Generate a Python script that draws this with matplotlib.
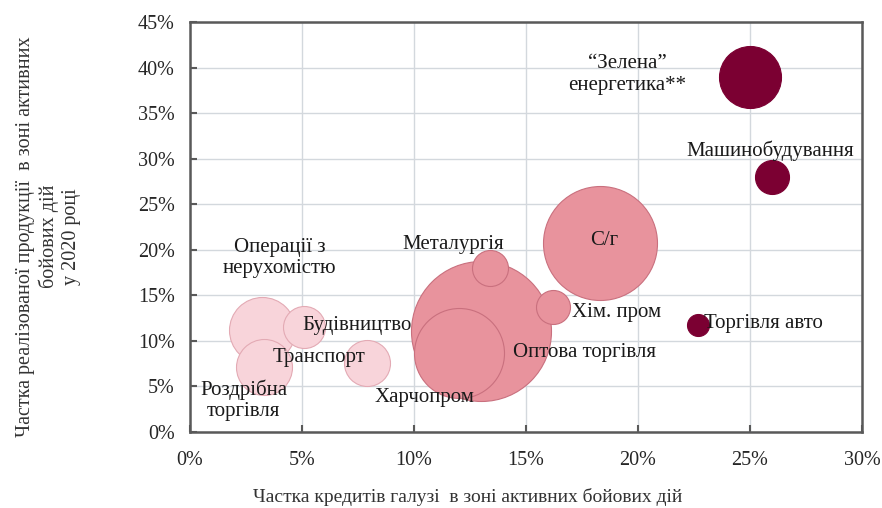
import numpy as np
import matplotlib.pyplot as plt
from matplotlib.ticker import PercentFormatter

plt.rcParams['font.family'] = ['Liberation Serif', 'DejaVu Serif']

# Bubble data: x = share of industry loans, y = share of sales (both %)
names = ['Оптова торгівля', 'Харчопром', 'Металургія', 'Хім. пром', 'С/г',
         'Операції з\nнерухомістю', 'Роздрібна\nторгівля', 'Будівництво', 'Транспорт',
         '“Зелена”\nенергетика**', 'Машинобудування', 'Торгівля авто']
x_vals = [13.0, 12.0, 13.4, 16.2, 18.3, 3.2, 3.3, 5.1, 7.9, 25.0, 26.0, 22.7]
y_vals = [11.1, 8.7, 18.0, 13.7, 20.7, 11.2, 7.1, 11.5, 7.6, 39.0, 28.0, 11.7]
bubble = [70, 45, 18, 17, 57, 33, 28, 21, 23, 31, 17, 11]   # bubble radius (px)
group = ['mid', 'mid', 'mid', 'mid', 'mid', 'pale', 'pale', 'pale', 'pale',
         'dark', 'dark', 'dark']

# label offsets in pixels from bubble centre
label_dx = [103, -34, -37, 64, 4, 18, -20, 53, -48, -123, -2, 65]
label_dy = [-22, -45, 24, -5, 3, 72, -33, 2, 5, 2, 26, 2]

fills = {'mid': '#E8939D', 'pale': '#F8D4DA', 'dark': '#7B0032'}
edges = {'mid': '#C9707E', 'pale': '#E3AAB4', 'dark': '#7B0032'}

fig = plt.figure(figsize=(8.82, 5.08), dpi=100)
ax = fig.add_axes([0.2154, 0.1496, 0.7619, 0.8071])

for i in range(len(names)):
    s = (2 * bubble[i] * 0.72) ** 2
    ax.scatter(x_vals[i], y_vals[i], s=s, color=fills[group[i]],
               edgecolors=edges[group[i]], linewidths=0.8, zorder=3 + i * 0.01)

for i, txt in enumerate(names):
    ax.annotate(txt, (x_vals[i], y_vals[i]), xytext=(label_dx[i], label_dy[i]),
                textcoords='offset pixels', ha='center', va='center',
                fontsize=15, color='#1a1a1a', zorder=10, linespacing=1.2)

ax.set_xlim(0, 30)
ax.set_ylim(0, 45)
ax.set_xticks(np.arange(0, 31, 5))
ax.set_yticks(np.arange(0, 46, 5))
ax.xaxis.set_major_formatter(PercentFormatter(decimals=0))
ax.yaxis.set_major_formatter(PercentFormatter(decimals=0))
ax.grid(color='#D3D8DD', linewidth=1)
ax.set_axisbelow(True)
for sp in ax.spines.values():
    sp.set_color('#595959')
    sp.set_linewidth(1.8)
ax.tick_params(direction='in', length=5, width=1.5, color='#595959',
               labelsize=14.5, labelcolor='#262626')
ax.tick_params(axis='x', pad=14)
ax.tick_params(axis='y', pad=11)

fig.text(0.53, 0.022, 'Частка кредитів галузі  в зоні активних бойових дій',
         ha='center', va='center', fontsize=14, color='#333333')
fig.text(0.055, 0.535,
         'Частка реалізованої продукції  в зоні активних\nбойових дій\nу 2020 році',
         ha='center', va='center', rotation=90, fontsize=14.5, color='#333333',
         linespacing=1.2)

fig.savefig('out.png', dpi=100)
